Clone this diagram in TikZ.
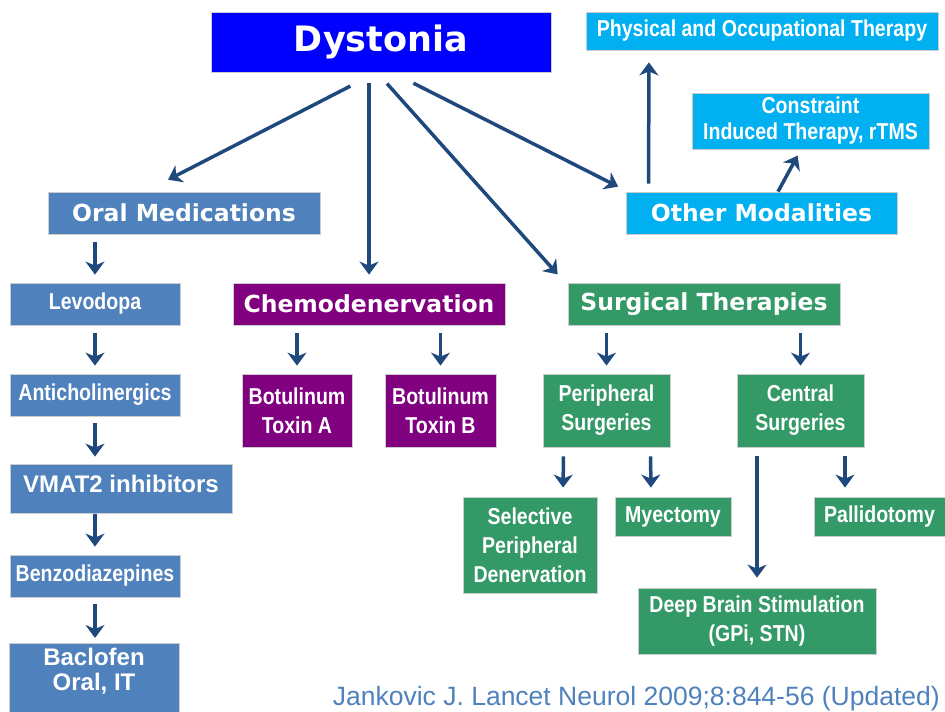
\documentclass[tikz,border=0pt]{standalone}
\usepackage{fontspec}
\setmainfont{Liberation Sans}
\newfontfamily\headfont{DejaVu Sans}
\newfontfamily\narrowfont{Liberation Sans}[FakeStretch=0.85]
\usepackage{tikz}
\usetikzlibrary{arrows.meta}
\definecolor{dysblue}{HTML}{0000FF}
\definecolor{oralblue}{HTML}{4F81BD}
\definecolor{chemopurple}{HTML}{800080}
\definecolor{surggreen}{HTML}{339966}
\definecolor{othercyan}{HTML}{00B0F0}
\definecolor{arrowblue}{HTML}{1F497D}

\begin{document}
\begin{tikzpicture}[x=1pt, y=-1pt, >={Stealth[length=13pt, width=19pt, inset=4pt]},
    box/.style={draw=black!20, line width=0.8pt, text=white, align=center, inner sep=0pt},
    head/.style={box, font=\headfont\bfseries\fontsize{23.5}{28}\selectfont},
    narrow/.style={box, font=\narrowfont\bfseries\fontsize{23}{29}\selectfont},
    wide/.style={box, font=\bfseries\fontsize{24}{25}\selectfont},
    arr/.style={->, draw=arrowblue, line width=3.5pt, shorten <=8pt, shorten >=8pt}]
  \useasboundingbox (0,0) rectangle (945,712);
  \node[head, fill=dysblue, minimum width=340pt, minimum height=60pt, font=\headfont\bfseries\fontsize{35}{40}\selectfont] (dys) at (381,42) {Dystonia};
  \node[head, fill=oralblue, minimum width=272pt, minimum height=42pt] (oral) at (184,213) {Oral Medications};
  \node[head, fill=chemopurple, minimum width=272pt, minimum height=42pt] (chemo) at (369,304) {Chemodenervation};
  \node[head, fill=surggreen, minimum width=272pt, minimum height=42pt] (surg) at (704,304) {Surgical Therapies};
  \node[head, fill=othercyan, minimum width=271pt, minimum height=42pt] (other) at (761.5,213) {Other Modalities};
  \node[narrow, fill=othercyan, minimum width=352pt, minimum height=38pt] (phys) at (762,31) {Physical and Occupational Therapy};
  \node[narrow, fill=othercyan, minimum width=237pt, minimum height=56pt, font=\narrowfont\bfseries\fontsize{23}{26}\selectfont] (cons) at (810.5,121) {Constraint\\Induced Therapy, rTMS};
  \node[narrow, fill=oralblue, minimum width=170pt, minimum height=42pt] (levo) at (95,304) {Levodopa};
  \node[narrow, fill=oralblue, minimum width=170pt, minimum height=42pt] (anti) at (95,395) {Anticholinergics};
  \node[wide, fill=oralblue, minimum width=222pt, text height=28pt, text depth=21pt] (vmat) at (121,488.5) {VMAT2 inhibitors};
  \node[narrow, fill=oralblue, minimum width=170pt, minimum height=42pt] (benzo) at (95,576) {Benzodiazepines};
  \node[wide, fill=oralblue, minimum width=170pt, anchor=north, inner ysep=5pt, text depth=27pt] (bacl) at (94,643) {Baclofen\\Oral, IT};
  \node[narrow, fill=chemopurple, minimum width=110pt, minimum height=73pt] (botA) at (297,410.5) {Botulinum\\Toxin A};
  \node[narrow, fill=chemopurple, minimum width=111pt, minimum height=73pt] (botB) at (440.5,410.5) {Botulinum\\Toxin B};
  \node[narrow, fill=surggreen, minimum width=127pt, minimum height=73pt] (peri) at (606.5,410.5) {Peripheral\\Surgeries};
  \node[narrow, fill=surggreen, minimum width=127pt, minimum height=73pt] (cent) at (800.5,410.5) {Central\\Surgeries};
  \node[narrow, fill=surggreen, minimum width=134pt, minimum height=96pt] (sel) at (530,545) {Selective\\Peripheral\\Denervation};
  \node[narrow, fill=surggreen, minimum width=116pt, minimum height=39pt] (myec) at (673,516.5) {Myectomy};
  \node[narrow, fill=surggreen, minimum width=131pt, minimum height=39pt] (pall) at (879.5,516.5) {Pallidotomy};
  \node[narrow, fill=surggreen, minimum width=238pt, minimum height=66pt] (dbs) at (757,621) {Deep Brain Stimulation\\(GPi, STN)};
  \node[anchor=base east, inner sep=0pt, text=oralblue, font=\fontsize{26.5}{30}\selectfont] (cite) at (940,705) {Jankovic J. Lancet Neurol 2009;8:844-56 (Updated)};
  \draw[arr, shorten <=30pt, shorten >=26pt] ([xshift=-4pt]dys.south) -- ([xshift=-39pt]oral.north);
  \draw[arr, shorten <=11pt] (dys.south -| chemo.north) -- (chemo.north);
  \draw[arr, shorten <=15pt, shorten >=11pt] ([xshift=-4pt]dys.south) -- ([xshift=-139pt]surg.north);
  \draw[arr, shorten <=24pt, shorten >=11pt] ([xshift=11pt]dys.south) -- ([xshift=-133.5pt]other.north);
  \draw[arr, shorten >=12pt] ([xshift=-113pt]other.north) -- ([xshift=-113pt]phys.south);
  \draw[arr, shorten <=0pt, shorten >=7pt] ([xshift=16.5pt]other.north) -- ([xshift=-9.5pt]cons.south);
  \draw[arr] (oral.south -| levo.north) -- (levo.north);
  \draw[arr] (levo.south) -- (anti.north);
  \draw[arr, shorten <=7pt, shorten >=7pt] (anti.south) -- (anti.south |- vmat.north);
  \draw[arr, shorten <=1pt] (benzo.north |- vmat.south) -- (benzo.north);
  \draw[arr, shorten <=7pt, shorten >=5pt] (benzo.south) -- (benzo.south |- bacl.north);
  \draw[arr] (chemo.south -| botA.north) -- (botA.north);
  \draw[arr] (chemo.south -| botB.north) -- (botB.north);
  \draw[arr] (surg.south -| peri.north) -- (peri.north);
  \draw[arr] (surg.south -| cent.north) -- (cent.north);
  \draw[arr, shorten <=9pt, shorten >=9pt] ([xshift=-43pt]peri.south) -- ([xshift=33pt]sel.north);
  \draw[arr, shorten <=9pt, shorten >=9pt] ([xshift=44pt]peri.south) -- ([xshift=-22pt]myec.north);
  \draw[arr, shorten <=9pt, shorten >=10pt] (cent.south -| dbs.north) -- (dbs.north);
  \draw[arr, shorten <=9pt, shorten >=9pt] ([xshift=44.5pt]cent.south) -- ([xshift=-34.5pt]pall.north);
\end{tikzpicture}
\end{document}
